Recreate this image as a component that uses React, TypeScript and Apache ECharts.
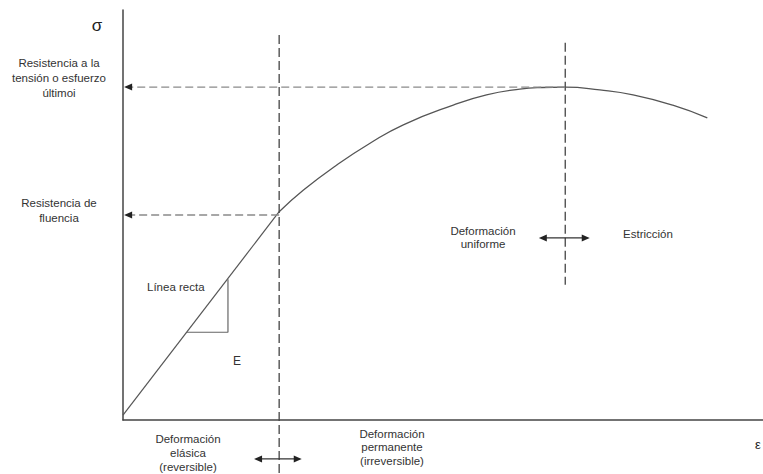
import React, { useEffect, useRef } from "react";
import * as echarts from "echarts";

// Stress-strain curve (axis units 0..100)
const elasticStrain = [0, 24.4];
const elasticStress = [1.2, 50.8];
const plasticStrain = [24.4, 28.2, 33.4, 38.6, 43.8, 51.6, 56.8, 62.0, 65.5, 69.1, 74.5, 79.7, 85.9, 91.3];
const plasticStress = [50.8, 56.1, 62.2, 67.5, 72.0, 76.8, 79.3, 80.7, 81.1, 81.2, 80.5, 79.3, 76.8, 73.7];

// Slope triangle (E)
const triangleStrain = [10, 16.4, 16.4];
const triangleStress = [21.4, 21.4, 34.3];

// Guide points
const yieldStrain = 24.4;
const yieldStress = 50.0;
const ultimateStrain = 69.1;
const ultimateStress = 81.2;
const yieldGuideSpan = [93.9, -13.2];
const ultimateGuideSpan = [92, 33];
const axisArrowStrain = 0.8;

// Double arrows
const elasticArrowStrain = [21.1, 27.3];
const elasticArrowStress = -9.5;
const neckArrowStrain = [65.6, 72.3];
const neckArrowStress = 44.4;

const FONT = '"Liberation Sans", Arial, sans-serif';
const TXT = "#333";

const pts = (xs: number[], ys: number[]) => xs.map((x, i) => [x, ys[i]]);

const arrowItem = (x: number, y: number, dir: "left" | "right", color: string) => ({
  value: [x, y],
  symbol: "triangle",
  symbolSize: [7, 8],
  symbolRotate: dir === "left" ? 90 : -90,
  itemStyle: { color },
});
const plainItem = (x: number, y: number) => ({ value: [x, y], symbol: "none" });

export default function App() {
  const ref = useRef<HTMLDivElement>(null);
  useEffect(() => {
    if (!ref.current) return;
    const chart = echarts.init(ref.current, null, { renderer: "svg" });
    const vDash = { color: "#444", width: 1.3, type: [9, 4] as any };
    const hDash = { color: "#8a8a8a", width: 1.3, type: [8, 4] as any };
    const text = (t: string, x: number, y: number, opts: any = {}) => ({
      type: "text",
      style: {
        text: t,
        x,
        y,
        fill: opts.fill || TXT,
        font: `${opts.size || 11.5}px ${FONT}`,
        textAlign: opts.align || "center",
        textVerticalAlign: "middle",
        lineHeight: opts.lh || 14,
      },
    });
    chart.setOption({
      animation: false,
      grid: { left: 123, right: 0, top: 10, bottom: 54 },
      xAxis: {
        type: "value",
        min: 0,
        max: 100,
        axisLine: { show: true, lineStyle: { color: "#444", width: 1.5 } },
        axisTick: { show: false },
        axisLabel: { show: false },
        splitLine: { show: false },
      },
      yAxis: {
        type: "value",
        min: 0,
        max: 100,
        axisLine: { show: true, lineStyle: { color: "#444", width: 1.5 } },
        axisTick: { show: false },
        axisLabel: { show: false },
        splitLine: { show: false },
      },
      series: [
        {
          type: "line",
          data: pts(elasticStrain, elasticStress),
          symbol: "none",
          lineStyle: { color: "#555", width: 1.2 },
        },
        {
          type: "line",
          data: pts(plasticStrain, plasticStress),
          smooth: 0.5,
          symbol: "none",
          lineStyle: { color: "#555", width: 1.3 },
        },
        {
          type: "line",
          data: pts(triangleStrain, triangleStress),
          symbol: "none",
          lineStyle: { color: "#666", width: 1.2 },
        },
        {
          type: "line",
          clip: false,
          data: [[yieldStrain, yieldGuideSpan[0]], [yieldStrain, yieldGuideSpan[1]]],
          symbol: "none",
          lineStyle: vDash,
        },
        {
          type: "line",
          clip: false,
          data: [[ultimateStrain, ultimateGuideSpan[0]], [ultimateStrain, ultimateGuideSpan[1]]],
          symbol: "none",
          lineStyle: vDash,
        },
        {
          type: "line",
          clip: false,
          showSymbol: true,
          data: [plainItem(yieldStrain, yieldStress), arrowItem(axisArrowStrain, yieldStress, "left", "#222")],
          lineStyle: hDash,
        },
        {
          type: "line",
          clip: false,
          showSymbol: true,
          data: [plainItem(ultimateStrain, ultimateStress), arrowItem(axisArrowStrain, ultimateStress, "left", "#222")],
          lineStyle: hDash,
        },
        {
          type: "line",
          clip: false,
          showSymbol: true,
          data: [
            arrowItem(elasticArrowStrain[0], elasticArrowStress, "left", "#222"),
            arrowItem(elasticArrowStrain[1], elasticArrowStress, "right", "#222"),
          ],
          lineStyle: { color: "#333", width: 1.3 },
        },
        {
          type: "line",
          clip: false,
          showSymbol: true,
          data: [
            arrowItem(neckArrowStrain[0], neckArrowStress, "left", "#222"),
            arrowItem(neckArrowStrain[1], neckArrowStress, "right", "#222"),
          ],
          lineStyle: { color: "#333", width: 1.3 },
        },
      ],
      graphic: [
        text("σ", 97, 25, { size: 17, fill: "#222" }),
        text("Resistencia a la\ntensión o esfuerzo\núltimoi", 59, 78, { lh: 15 }),
        text("Resistencia de\nfluencia", 59, 210.5, { lh: 15 }),
        text("Línea recta", 147, 287, { align: "left" }),
        text("E", 237, 361, { size: 12 }),
        text("Deformación\nelásica\n(reversible)", 188, 453, { lh: 14 }),
        text("Deformación\npermanente\n(irreversible)", 392, 447, { lh: 13.5 }),
        text("Deformación\nuniforme", 483, 237.5, { lh: 13.5 }),
        text("Estricción", 648, 234),
        text("ε", 758, 444, { size: 13, fill: "#222" }),
      ],
    });
    return () => chart.dispose();
  }, []);
  return (
    <div
      ref={ref}
      style={{ position: "fixed", left: 0, top: 0, width: 763, height: 474, background: "#fff" }}
    />
  );
}
